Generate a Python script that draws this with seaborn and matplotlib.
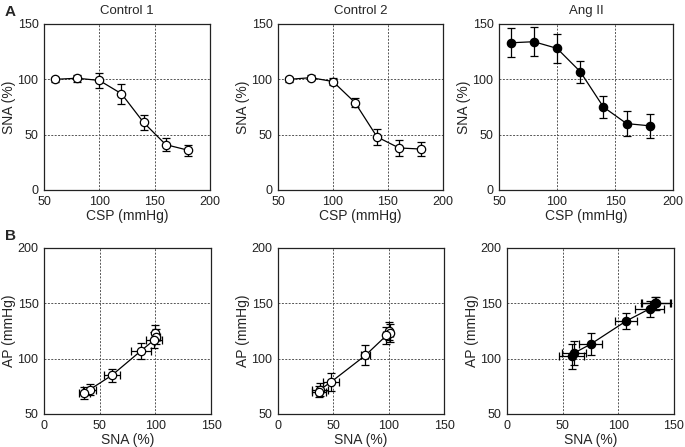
import numpy as np
import pandas as pd
import matplotlib
matplotlib.use("Agg")
import matplotlib.pyplot as plt
import seaborn as sns

sns.set_style("ticks")
plt.rcParams["font.family"] = ["Liberation Sans", "DejaVu Sans"]

# Data
csp = [60, 80, 100, 120, 140, 160, 180]
titles = ["Control 1", "Control 2", "Ang II"]

sna_c1 = [100, 101, 99, 87, 61, 41, 36]
sna_c1_err = [2, 3, 7, 9, 7, 6, 5]
ap_c1 = [123, 120, 117, 107, 85, 72, 69]
ap_c1_err = [7, 7, 7, 7, 6, 5, 5]

sna_c2 = [100, 101.5, 98, 79, 48, 38, 37]
sna_c2_err = [2, 2, 3, 4, 7, 7, 6]
ap_c2 = [125, 123, 121, 103, 79, 72, 70]
ap_c2_err = [8, 8, 8, 9, 8, 6, 5]

sna_ang = [133, 134, 128, 107, 75, 60, 58]
sna_ang_err = [13, 13, 13, 10, 10, 11, 11]
ap_ang = [150, 150, 145, 134, 113, 105, 102]
ap_ang_err = [6, 6, 7, 7, 10, 11, 11]

groups = [
    (sna_c1, sna_c1_err, ap_c1, ap_c1_err, "white"),
    (sna_c2, sna_c2_err, ap_c2, ap_c2_err, "white"),
    (sna_ang, sna_ang_err, ap_ang, ap_ang_err, "black"),
]

fig = plt.figure(figsize=(6.85, 4.47), dpi=100)
W, H = 685, 447

top_boxes = [(44, 24, 166, 166), (278, 24, 165, 166), (499, 24, 174, 166)]
bot_boxes = [(44, 248, 167, 166), (278, 248, 166, 166), (507, 248, 167, 166)]


def make_ax(box):
    x, y, w, h = box
    return fig.add_axes([x / W, 1 - (y + h) / H, w / W, h / H])


def style_ax(ax, xlim, ylim, xticks, yticks, xlabel, ylabel):
    ax.set_xlim(*xlim)
    ax.set_ylim(*ylim)
    ax.set_xticks(xticks)
    ax.set_yticks(yticks)
    ax.tick_params(length=0, labelsize=9, colors="#222222")
    ax.tick_params(axis="x", pad=4)
    ax.tick_params(axis="y", pad=4)
    ax.grid(True, linestyle=(0, (2, 1.5)), color="#555555", linewidth=0.7)
    for s in ax.spines.values():
        s.set_linewidth(0.9)
        s.set_color("#222222")
    ax.set_xlabel(xlabel, fontsize=10, labelpad=1)
    ax.set_ylabel(ylabel, fontsize=10, labelpad=1)


for i, (sna, sna_err, ap, ap_err, face) in enumerate(groups):
    # Panel A: SNA vs CSP
    ax = make_ax(top_boxes[i])
    df = pd.DataFrame({"CSP": csp, "SNA": sna})
    ax.errorbar(csp, sna, yerr=sna_err, fmt="none", ecolor="black",
                elinewidth=0.9, capsize=3, capthick=0.9, zorder=2)
    sns.lineplot(data=df, x="CSP", y="SNA", ax=ax, color="black", lw=0.9,
                 marker="o", markersize=6, markerfacecolor=face,
                 markeredgecolor="black", markeredgewidth=0.9, zorder=3)
    style_ax(ax, (50, 200), (0, 150), [50, 100, 150, 200], [0, 50, 100, 150],
             "CSP (mmHg)", "SNA (%)")
    ax.set_title(titles[i], fontsize=9.5, pad=7)

    # Panel B: AP vs SNA
    ax = make_ax(bot_boxes[i])
    df = pd.DataFrame({"SNA": sna, "AP": ap})
    ax.errorbar(sna, ap, xerr=sna_err, yerr=ap_err, fmt="none", ecolor="black",
                elinewidth=0.9, capsize=3, capthick=0.9, zorder=2)
    sns.lineplot(data=df, x="SNA", y="AP", ax=ax, color="black", lw=0.9,
                 sort=False, marker="o", markersize=6, markerfacecolor=face,
                 markeredgecolor="black", markeredgewidth=0.9, zorder=3)
    style_ax(ax, (0, 150), (50, 200), [0, 50, 100, 150], [50, 100, 150, 200],
             "SNA (%)", "AP (mmHg)")

fig.text(5 / W, 1 - 5 / H, "A", fontsize=11, fontweight="bold", va="top")
fig.text(5 / W, 1 - 229 / H, "B", fontsize=11, fontweight="bold", va="top")

fig.savefig("out.png", dpi=100)
